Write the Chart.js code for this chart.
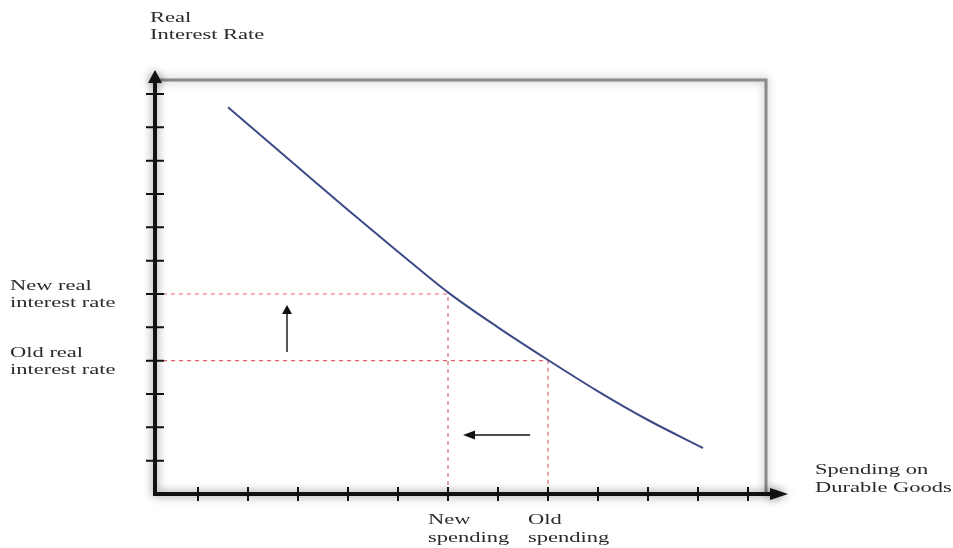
<!DOCTYPE html>
<html>
<head>
<meta charset="utf-8">
<script src="https://cdn.jsdelivr.net/npm/chart.js@4.4.1/dist/chart.umd.min.js"></script>
<style>
html,body{margin:0;padding:0;background:#fff;}
#wrap{width:953px;height:548px;position:relative;}
</style>
</head>
<body>
<div id="wrap"><canvas id="c"></canvas></div>
<script>
// ---- data (axis units: one tick = 1) ----
const curveX = [1.6, 3, 4, 5, 6, 7, 8, 9, 10, 11.1];
const curveY = [11.6, 9.8, 8.52, 7.27, 6.05, 5.0, 4.02, 3.08, 2.22, 1.38];
const xTicks = [1, 2, 3, 4, 5, 6, 7, 8, 9, 10, 11, 12];
const yTicks = [1, 2, 3, 4, 5, 6, 7, 8, 9, 10, 11, 12];
const spendingValues = [6, 8];            // new, old spending
const spendingLabels = [['New', 'spending'], ['Old', 'spending']];
const rateValues = [6, 4];                // new, old real interest rate
const rateLabels = [['New real', 'interest rate'], ['Old real', 'interest rate']];
const yAxisTitle = ['Real', 'Interest Rate'];
const xAxisTitle = ['Spending on', 'Durable Goods'];
const upArrow = [2.78, 4.26, 5.67];       // x, y from, y to
const leftArrow = [1.77, 7.64, 6.3];      // y, x from, x to
const xRange = [0.14, 12.8];
const yRange = [0, 12.72];
const boxCorner = [12.36, 12.42];         // plot frame right / top

const dashColor = 'rgba(220,70,80,0.85)';
const dashed = (i) => ({
  type: 'line',
  data: [{x: xRange[0], y: rateValues[i]}, {x: spendingValues[i], y: rateValues[i]}, {x: spendingValues[i], y: 0}],
  borderColor: dashColor, borderWidth: 1.2, borderDash: [4, 4], pointRadius: 0, tension: 0, clip: false
});

const SX = 1.5; // horizontal stretch of the original picture
function sText(ctx, str, x, y, align) {
  ctx.save();
  ctx.translate(x, y);
  ctx.scale(SX, 1);
  ctx.textAlign = align || 'left';
  ctx.fillText(str, 0, 0);
  ctx.restore();
}

const decor = {
  id: 'decor',
  beforeDatasetsDraw(chart) {
    const {ctx, scales: {x, y}} = chart;
    const x0 = x.getPixelForValue(xRange[0]), y0 = y.getPixelForValue(0);
    const xr = x.getPixelForValue(boxCorner[0]), yt = y.getPixelForValue(boxCorner[1]);
    ctx.save();
    ctx.strokeStyle = '#8a8a8a';
    ctx.lineWidth = 3;
    ctx.shadowColor = 'rgba(0,0,0,0.35)';
    ctx.shadowBlur = 8;
    ctx.beginPath();
    ctx.moveTo(x0, yt); ctx.lineTo(xr, yt); ctx.lineTo(xr, y0);
    ctx.stroke();
    ctx.restore();
  },
  afterDatasetsDraw(chart) {
    const {ctx, scales: {x, y}} = chart;
    const x0 = x.getPixelForValue(xRange[0]), y0 = y.getPixelForValue(0);
    const xEnd = x.getPixelForValue(xRange[1]), yEnd = y.getPixelForValue(yRange[1]);
    ctx.save();
    // axes with shadow
    ctx.shadowColor = 'rgba(0,0,0,0.5)';
    ctx.shadowBlur = 10;
    ctx.strokeStyle = '#111';
    ctx.fillStyle = '#111';
    ctx.lineWidth = 4;
    ctx.beginPath();
    ctx.moveTo(x0, yEnd + 10); ctx.lineTo(x0, y0); ctx.lineTo(xEnd - 14, y0);
    ctx.stroke();
    // arrow heads
    ctx.beginPath();
    ctx.moveTo(x0, yEnd); ctx.lineTo(x0 - 7, yEnd + 13); ctx.lineTo(x0 + 7, yEnd + 13); ctx.closePath(); ctx.fill();
    ctx.beginPath();
    ctx.moveTo(xEnd, y0); ctx.lineTo(xEnd - 18, y0 - 6); ctx.lineTo(xEnd - 18, y0 + 6); ctx.closePath(); ctx.fill();
    ctx.shadowBlur = 0;
    // tick marks
    ctx.lineWidth = 2;
    ctx.beginPath();
    yTicks.forEach(v => { const p = y.getPixelForValue(v); ctx.moveTo(x0 - 9, p); ctx.lineTo(x0 + 9, p); });
    xTicks.forEach(v => { const p = x.getPixelForValue(v); ctx.moveTo(p, y0 - 7); ctx.lineTo(p, y0 + 7); });
    ctx.stroke();
    // small annotation arrows
    ctx.lineWidth = 1.4;
    ctx.strokeStyle = '#111';
    const ax = x.getPixelForValue(upArrow[0]), ay0 = y.getPixelForValue(upArrow[1]), ay1 = y.getPixelForValue(upArrow[2]);
    ctx.beginPath(); ctx.moveTo(ax, ay0); ctx.lineTo(ax, ay1 + 8); ctx.stroke();
    ctx.beginPath(); ctx.moveTo(ax, ay1); ctx.lineTo(ax - 5, ay1 + 9); ctx.lineTo(ax + 5, ay1 + 9); ctx.closePath(); ctx.fill();
    const by = y.getPixelForValue(leftArrow[0]), bx0 = x.getPixelForValue(leftArrow[1]), bx1 = x.getPixelForValue(leftArrow[2]);
    ctx.beginPath(); ctx.moveTo(bx0, by); ctx.lineTo(bx1 + 10, by); ctx.stroke();
    ctx.beginPath(); ctx.moveTo(bx1, by); ctx.lineTo(bx1 + 12, by - 4.5); ctx.lineTo(bx1 + 12, by + 4.5); ctx.closePath(); ctx.fill();
    // texts
    ctx.fillStyle = '#2a2a2a';
    ctx.font = '15px "Liberation Serif", "DejaVu Serif", serif';
    ctx.textBaseline = 'middle';
    sText(ctx, yAxisTitle[0], x0 - 5, yEnd - 52);
    sText(ctx, yAxisTitle[1], x0 - 5, yEnd - 35);
    rateValues.forEach((v, i) => {
      const p = y.getPixelForValue(v);
      sText(ctx, rateLabels[i][0], x0 - 145, p - 8);
      sText(ctx, rateLabels[i][1], x0 - 145, p + 9);
    });
    spendingValues.forEach((v, i) => {
      const p = x.getPixelForValue(v);
      sText(ctx, spendingLabels[i][0], p - 20, y0 + 26);
      sText(ctx, spendingLabels[i][1], p - 20, y0 + 44);
    });
    sText(ctx, xAxisTitle[0], xEnd + 27, y0 - 24);
    sText(ctx, xAxisTitle[1], xEnd + 27, y0 - 6);
    ctx.restore();
  }
};

new Chart(document.getElementById('c'), {
  type: 'line',
  data: {
    datasets: [
      {
        data: curveX.map((v, i) => ({x: v, y: curveY[i]})),
        borderColor: '#3d4a86', borderWidth: 2, pointRadius: 0,
        cubicInterpolationMode: 'monotone', clip: false
      },
      dashed(0),
      dashed(1)
    ]
  },
  options: {
    responsive: true,
    maintainAspectRatio: false,
    animation: false,
    events: [],
    layout: {padding: {left: 155, right: 165, top: 70, bottom: 54}},
    plugins: {legend: {display: false}, tooltip: {enabled: false}},
    scales: {
      x: {type: 'linear', min: xRange[0], max: xRange[1], display: false},
      y: {type: 'linear', min: yRange[0], max: yRange[1], display: false}
    }
  },
  plugins: [decor]
});
</script>
</body>
</html>
